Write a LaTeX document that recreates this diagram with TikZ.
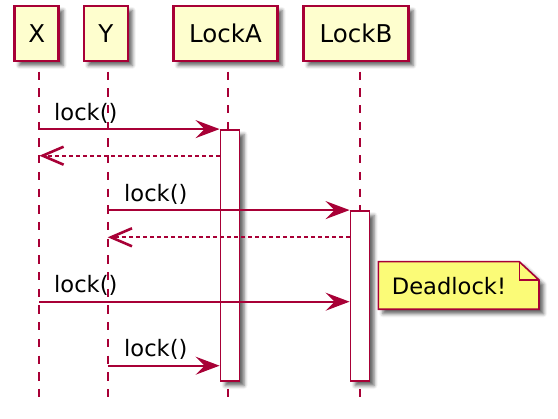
\documentclass[tikz,border=0pt]{standalone}
\usepackage{fontspec}
\setmainfont{DejaVu Sans}
\usetikzlibrary{arrows.meta,shadows.blur}
\definecolor{pborder}{HTML}{A80036}
\definecolor{pfill}{HTML}{FEFECE}
\definecolor{nfill}{HTML}{FBFB77}
\begin{document}
\begin{tikzpicture}[x=1pt,y=-1pt,
  shad/.style={blur shadow={shadow xshift=4.5pt,shadow yshift=-4.5pt,shadow blur radius=3.5pt,shadow opacity=60}},
  part/.style={draw=pborder,fill=pfill,line width=2.5pt,inner sep=0pt,minimum height=55pt,
    font=\fontsize{24.5}{29}\selectfont,shad},
  life/.style={draw=pborder,line width=1.7pt,dash pattern=on 8.3pt off 8.4pt},
  actbar/.style={draw=pborder,fill=white,line width=1.8pt,minimum width=19pt,inner sep=0pt,shad},
  msg/.style={draw=pborder,line width=1.8pt,-{Stealth[length=24pt,width=18pt,inset=9pt]}},
  ret/.style={draw=pborder,line width=1.8pt,dash pattern=on 3.5pt off 3.5pt,
    -{Straight Barb[length=21pt,width=18pt,line width=2.6pt]}},
  lbl/.style={inner sep=0pt,anchor=base west,font=\fontsize{22.6}{27}\selectfont},
]
\useasboundingbox (0,0) rectangle (558,419);
% participants
\node[part,minimum width=44pt] (pX) at (36.7,33.5) {X};
\node[part,minimum width=44pt] (pY) at (105.8,33.5) {Y};
\node[part,minimum width=104pt] (pA) at (225.5,33.5) {LockA};
\node[part,minimum width=105pt] (pB) at (356,33.5) {LockB};
% lifelines
\coordinate (xt) at (39.3,71.7); \coordinate (xb) at (39.3,399);
\coordinate (yt) at (107.7,71.7); \coordinate (yb) at (107.7,399);
\coordinate (at) at (228.3,71.7); \coordinate (ab) at (228.3,399);
\coordinate (bt) at (360.3,71.7); \coordinate (bb) at (360.3,399);
\draw[life] (xt) -- (xb);
\draw[life] (yt) -- (yb);
\draw[life] (at) -- (ab);
\draw[life] (bt) -- (bb);
% activations
\node[actbar,minimum height=251pt] (actA) at (230,255.5) {};
\node[actbar,minimum height=170pt] (actB) at (360,296) {};
% messages
\draw[msg] (xt |- actA.north) -- (actA.north west);
\node[lbl] (l1) at (54,120.7) {lock()};
\coordinate (r1) at (actA.west |- 0,155.7);
\draw[ret] (r1) -- (xt |- r1);
\draw[msg] (yt |- actB.north) -- (actB.north west);
\node[lbl] (l3) at (124,201.4) {lock()};
\coordinate (r2) at (actB.west |- 0,237.3);
\draw[ret] (r2) -- (yt |- r2);
\coordinate (m5) at (actB.west |- 0,301.7);
\draw[msg] (xt |- m5) -- (m5);
\node[lbl] (l5) at (54,292.4) {lock()};
\coordinate (m6) at (actA.west |- 0,365.7);
\draw[msg] (yt |- m6) -- (m6);
\node[lbl] (l6) at (124,356.4) {lock()};
% note
\path[draw=pborder,fill=nfill,line width=1.6pt,shad]
  (378.3,261.7) -- (519.3,261.7) -- (539,280) -- (539,309.3) -- (378.3,309.3) -- cycle;
\draw[pborder,line width=1.6pt] (519.3,261.7) -- (519.3,280) -- (539,280);
\node[lbl] (note) at (391.7,294.3) {Deadlock!};
\end{tikzpicture}
\end{document}
